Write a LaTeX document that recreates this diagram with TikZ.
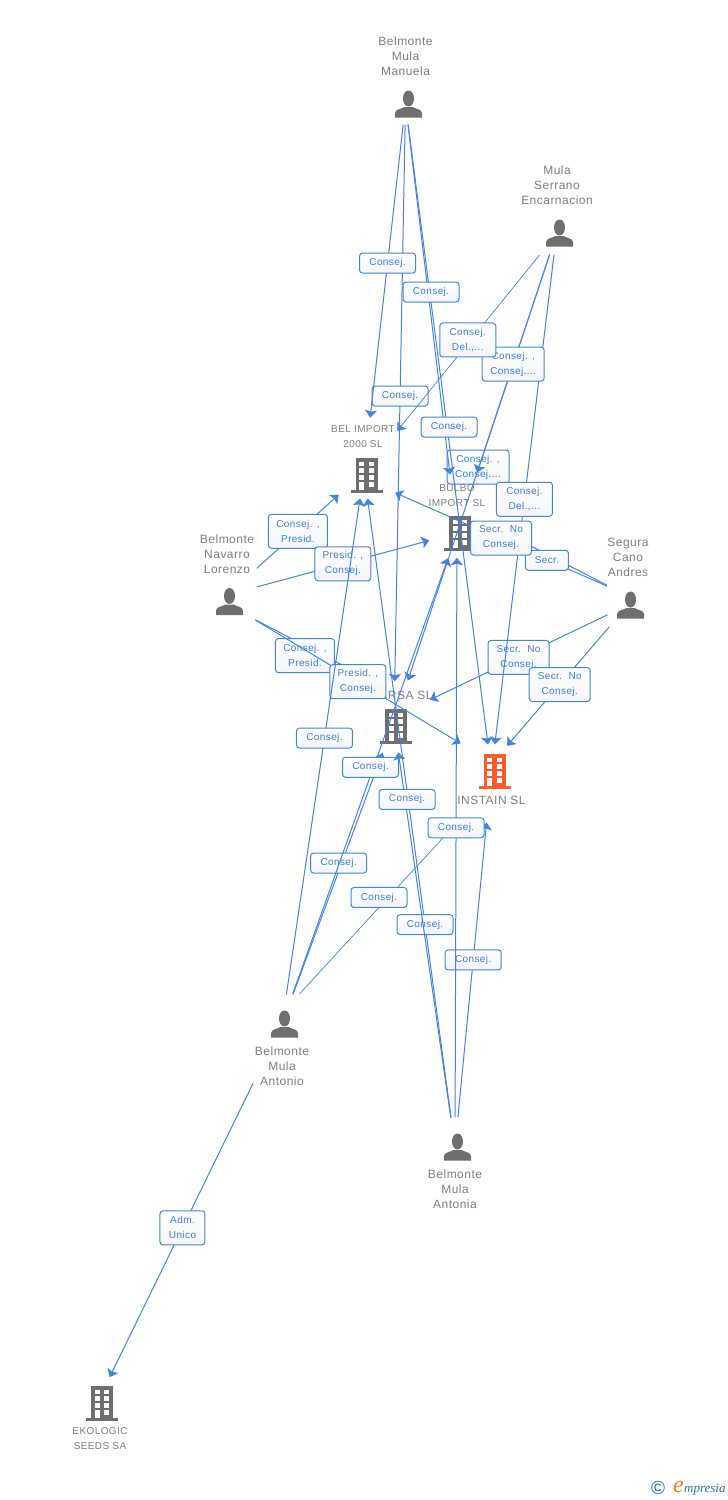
\documentclass[tikz,border=0pt]{standalone}
\usepackage{fontspec}
\setmainfont[LetterSpace=4]{Liberation Sans}
\newfontfamily\logofont{Liberation Serif}
\usepackage{tikz}
\usetikzlibrary{calc,arrows.meta}
\definecolor{linkblue}{HTML}{4384E2}
\definecolor{tagblue}{HTML}{3C7EDD}
\definecolor{tagshade}{HTML}{F3F5F8}
\definecolor{icongray}{HTML}{6F6F6F}
\definecolor{namegray}{HTML}{7F7F7F}
\definecolor{mainorange}{HTML}{FF5A2A}
\definecolor{logoteal}{HTML}{2F7291}
\definecolor{logoorange}{HTML}{F0801E}
\tikzset{
    >={Stealth[length=7.5pt,width=12pt,inset=1.5pt]},
    hub/.style={inner sep=0pt,minimum size=1pt},
    link/.style={->,draw=linkblue,line width=1pt},
    thinlink/.style={->,draw=linkblue,line width=0.7pt},
    tag/.style={draw=linkblue,line width=1pt,rounded corners=3pt,top color=white,bottom color=tagshade,
        text=tagblue,font=\fontsize{10}{15}\selectfont,align=center,inner sep=0pt,
        minimum width=#1,minimum height=20pt},
    tag/.default=56pt,
    tagtwo/.style={tag=#1,minimum height=34pt},
    tagtwo/.default=56pt,
    person name/.style={text=namegray,font=\fontsize{12}{15}\selectfont,align=center,inner sep=0pt},
    company name/.style={text=namegray,font=\fontsize{10}{15}\selectfont,align=center,inner sep=0pt},
    pics/person/.style={code={
        \fill[icongray] (0,-5.5) ellipse (5.5 and 8);
        \fill[icongray] (-13.5,13.7) -- (-13.5,9) .. controls (-13,5) and (-7,5) .. (-4,3)
            -- (4,3) .. controls (7,5) and (13,5) .. (13.5,9) -- (13.5,13.7) -- cycle;
    }},
    pics/company/.style={code={
        \fill[#1] (-11,-17) rectangle (11,15);
        \fill[#1] (-16,15) rectangle (16,17.5);
        % Windows
        \foreach \wx in {-7.5,2} {
            \foreach \wy in {-13.5,-6.7,0,6.7} {
                \fill[white] (\wx,\wy) rectangle ++(5,4.8);
            }
        }
        \fill[white] (-7.5,11) rectangle (-2.5,15);
    }},
}

\begin{document}
\begin{tikzpicture}[x=1pt,y=-1pt]
    \useasboundingbox (0,0) rectangle (728,1500);
    % Centres the connectors aim at
    \node[hub] (manuela) at (405.5,104) {};
    \node[hub] (encarnacion) at (556.5,234) {};
    \node[hub] (andres) at (628,605) {};
    \node[hub] (lorenzo) at (227,595) {};
    \node[hub] (antonio) at (282,1024) {};
    \node[hub] (antonia) at (455,1147) {};
    \node[hub] (belimport) at (364,472) {};
    \node[hub] (bulbo) at (457,533) {};
    \node[hub] (arsa) at (394,722) {};
    \node[hub] (instain) at (491.5,772) {};
    \node[hub] (ekologic) at (97,1403) {};
    % Icons
    \pic at (408.5,104) {person};
    \pic at (559.5,233) {person};
    \pic at (630.5,605) {person};
    \pic at (229.5,601.5) {person};
    \pic at (284.5,1024) {person};
    \pic at (457.5,1147) {person};
    \pic at (366.5,475) {company=icongray};
    \pic at (460,533) {company=icongray};
    \pic at (396,726) {company=icongray};
    \pic at (494.5,771) {company=mainorange};
    \pic at (102,1403) {company=icongray};
    % Names
    \node[person name] (manuelaname) at (405.5,56) {Belmonte\\Mula\\Manuela};
    \node[person name] (encarnacionname) at (557,185) {Mula\\Serrano\\Encarnacion};
    \node[person name] (andresname) at (628,557) {Segura\\Cano\\Andres};
    \node[person name] (lorenzoname) at (227,554) {Belmonte\\Navarro\\Lorenzo};
    \node[person name] (antonioname) at (282,1066) {Belmonte\\Mula\\Antonio};
    \node[person name] (antonianame) at (455,1189) {Belmonte\\Mula\\Antonia};
    \node[company name] (belname) at (363,436.5) {BEL IMPORT\\2000 SL};
    \node[company name] (bulboname) at (457,495.5) {BULBO\\IMPORT SL};
    \node[person name] (arsaname) at (406,695) {ARSA SL};
    \node[person name] (instainname) at (491.5,800) {INSTAIN SL};
    \node[company name] (ekologicname) at (100,1439) {EKOLOGIC\\SEEDS SA};
    % Connectors lying under the tags of other connectors
    \node[tagtwo=62pt] (tagencbulbo) at (478,467) {Consej. ,\\Consej....};
    \draw[link,shorten <=22pt,shorten >=40pt] (andres) -- node[tagtwo=61pt,pos=.466] (tagandarsa) {Secr.\ \ No\\Consej.} ($(arsa)+(0,-5)$);
    \draw[link,shorten <=29pt,shorten >=50pt] (antonia) -- node[tag,pos=.499] (tagantoniainst) {Consej.} (instain);
    \draw[link,shorten <=32pt,shorten >=33pt] ($(lorenzo)+(0,10)$) -- node[tagtwo=59pt,pos=.467,yshift=-10pt] (taglorarsa) {Consej. ,\\Presid.} ($(arsa)+(0,-30)$);
    \draw[link,shorten <=31pt,shorten >=32pt] (antonio) -- node[tag,pos=.533,xshift=-3pt] (tagantonioarsa) {Consej.} (arsa);
    \draw[link,shorten <=29pt,shorten >=26pt] (antonia) -- node[tag,pos=.329] (tagantoniabel) {Consej.} (belimport);
    \draw[thinlink,shorten <=26pt,shorten >=47pt] ($(antonio)+(0,-11)$) -- node[tag,pos=.463,yshift=10pt] (tagantonioinst) {Consej.} ($(instain)+(0,13)$);
    % Connectors running over those tags
    \draw[link,shorten <=21pt,shorten >=63pt] (encarnacion) -- (bulbo);
    \draw[link,shorten <=20pt,shorten >=58pt] (manuela) -- (bulbo);
    \draw[link,shorten <=31pt,shorten >=26pt] (antonio) -- node[tag,pos=.523,xshift=-3pt] (tagantoniobulbo) {Consej.} (bulbo);
    \draw[link,shorten <=29pt,shorten >=30pt] (antonia) -- node[tag,pos=.819,xshift=2pt] (tagantoniaarsa) {Consej.} (arsa);
    \draw[link,shorten <=29pt,shorten >=24pt] (antonia) -- node[tag,pos=.52] (tagantoniabulbo) {Consej.} (bulbo);
    \draw[link,shorten <=20pt,shorten >=27pt] (encarnacion) -- node[tagtwo,pos=.493] (tagencinst) {Consej.\\Del.,...} (instain);
    \draw[link,shorten <=33pt,shorten >=36pt] ($(lorenzo)+(0,8)$) -- node[tagtwo,pos=.495] (taglorinst) {Presid. ,\\Consej.} ($(instain)+(0,-10)$);
    % Manuela
    \draw[link,shorten <=20pt,shorten >=40pt] (manuela) -- node[tag,pos=.4725] (tagmanarsa) {Consej.} (arsa);
    \draw[link,shorten <=20pt,shorten >=54pt] (manuela) -- node[tag,pos=.432] (tagmanbel) {Consej.} (belimport);
    \draw[link,shorten <=20pt,shorten >=27pt] (manuela) -- node[tag,pos=.4835,xshift=2pt] (tagmaninst) {Consej.} (instain);
    \node[tag] (tagmanbulbo) at (431,292) {Consej.};
    % Encarnacion
    \draw[link,shorten <=21pt,shorten >=43pt] (encarnacion) -- node[tagtwo=62pt,pos=.266] (tagencarsa) {Consej. ,\\Consej....} (arsa);
    \draw[thinlink,shorten <=26pt,shorten >=52pt] (encarnacion) -- node[tagtwo,pos=.445,xshift=-3pt] (tagencbel) {Consej.\\Del.,...} (belimport);
    % Lorenzo
    \draw[link,shorten <=39pt,shorten >=33pt] (lorenzo) -- node[tagtwo=59pt,pos=.518] (taglorbel) {Consej. ,\\Presid.} (belimport);
    \draw[link,shorten <=30pt,shorten >=28pt] (lorenzo) -- node[tagtwo,pos=.504] (taglorbulbo) {Presid. ,\\Consej.} (bulbo);
    % Andres
    \draw[link,shorten <=23pt,shorten >=34pt] ($(andres)+(0,-9.6)$) -- ($(belimport)+(0,7)$);
    \draw[link,shorten <=24pt,shorten >=35pt] ($(andres)+(0,-9)$) -- node[tag=43pt,pos=.474,yshift=-6pt] (tagandbulbo) {Secr.} ($(bulbo)+(0,-25)$);
    \node[tagtwo=61pt] (tagandbel) at (501,538) {Secr.\ \ No\\Consej.};
    \draw[link,shorten <=28pt,shorten >=24pt] (andres) -- node[tagtwo=61pt,pos=.498] (tagandinst) {Secr.\ \ No\\Consej.} ($(instain)+(0,-8)$);
    % Antonio
    \draw[link,shorten <=29pt,shorten >=26pt] (antonio) -- node[tag,pos=.518] (tagantoniobel) {Consej.} (belimport);
    \draw[link,shorten <=65pt,shorten >=28pt] (antonio) -- node[tagtwo=45pt,pos=.538] (tagadm) {Adm.\\Unico} (ekologic);
    % Logo
    \node[inner sep=0pt,text=logoteal,font=\fontsize{19}{19}\selectfont] (logocopy) at (658,1488) {\textcopyright};
    \node[inner sep=0pt,text=logoorange,font=\logofont\itshape\fontsize{24}{24}\selectfont,anchor=east] (logoe) at (684,1487) {e};
    \node[inner sep=0pt,text=logoteal,font=\logofont\itshape\fontsize{13}{13}\selectfont,anchor=west] (logotext) at (684,1490) {mpresia};
\end{tikzpicture}
\end{document}
